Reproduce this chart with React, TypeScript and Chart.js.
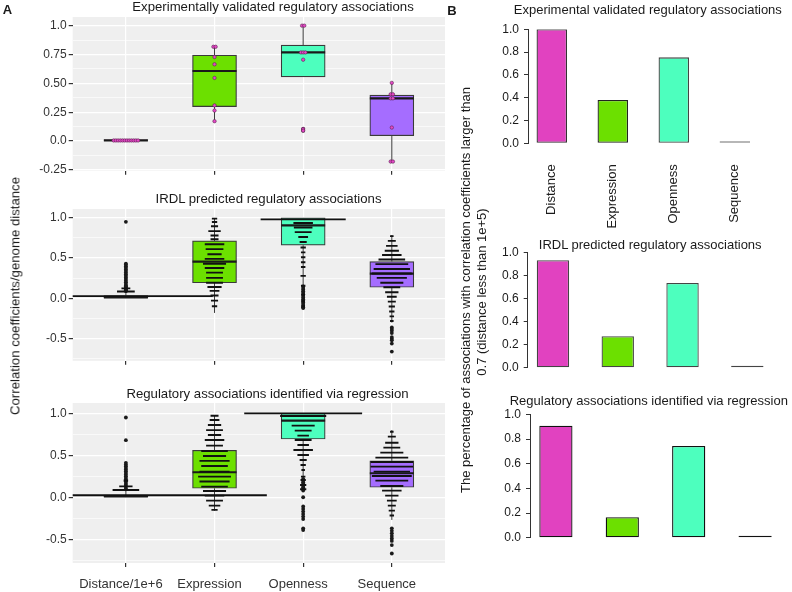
import React, { useEffect, useRef } from "react";
import { Chart, registerables } from "chart.js";

Chart.register(...registerables);

const FONT = "'Liberation Sans', Arial, Helvetica, sans-serif";
Chart.defaults.font.family = FONT;

// ---------------- Panel A (box + dot plots) ----------------
const categoriesA = ["Distance/1e+6", "Expression", "Openness", "Sequence"];
const fillColors = ["#E142C0", "#6CE000", "#4DFFBE", "#A56DFF"];

// Experimentally validated regulatory associations
const expLow = [0.0, 0.172, 0.556, -0.178];
const expQ1 = [0.0, 0.298, 0.556, 0.046];
const expMedian = [0.005, 0.607, 0.768, 0.37];
const expQ3 = [0.01, 0.745, 0.831, 0.398];
const expHigh = [0.01, 0.817, 1.0, 0.504];
const expOutliers: number[][] = [[], [], [0.105, 0.09], []];
// dot-plot observations per category: [value, count]
const expDots: number[][][] = [
  [[0.005, 12]],
  [[0.817, 2], [0.728, 1], [0.665, 1], [0.547, 1], [0.309, 1], [0.264, 1], [0.172, 1]],
  [[1.0, 2], [0.768, 3], [0.705, 1], [0.105, 1], [0.09, 1]],
  [[0.504, 1], [0.405, 2], [0.37, 2], [0.117, 1], [-0.178, 2]],
];

// IRDL predicted regulatory associations
const irdlLow = [0.0, -0.18, 0.16, -0.3];
const irdlQ1 = [0.0, 0.194, 0.66, 0.138];
const irdlMedian = [0.012, 0.457, 0.907, 0.308];
const irdlQ3 = [0.035, 0.713, 1.0, 0.457];
const irdlHigh = [0.085, 0.99, 1.0, 0.785];
const irdlOutliers: number[][] = [
  [0.09, 0.1, 0.11, 0.12, 0.13, 0.14, 0.15, 0.16, 0.18, 0.2, 0.22, 0.24, 0.26, 0.28, 0.3, 0.32, 0.34, 0.36, 0.38, 0.4, 0.42, 0.43, 0.95],
  [],
  [0.15, 0.13, 0.11, 0.09, 0.07, 0.05, 0.03, 0.01, -0.01, -0.03, -0.05, -0.07, -0.09, -0.11, -0.12],
  [-0.36, -0.38, -0.4, -0.43, -0.48, -0.5, -0.52, -0.56, -0.66],
];
// dot-plot stacks per category: [value, count]
const irdlStacks: number[][][] = [
  [[0.028, 196], [0.085, 20], [0.125, 10]],
  [[0.99, 6], [0.947, 6], [0.895, 8], [0.835, 14], [0.781, 9], [0.733, 9], [0.672, 22], [0.611, 20], [0.547, 16], [0.49, 22], [0.43, 26], [0.377, 22], [0.32, 19], [0.255, 19], [0.194, 19], [0.142, 16], [0.093, 11], [0.036, 9], [-0.028, 8], [-0.097, 6]],
  [[0.98, 96], [0.935, 22], [0.879, 21], [0.822, 19], [0.761, 11], [0.7, 8], [0.632, 6], [0.571, 5], [0.51, 5], [0.449, 5], [0.389, 5], [0.28, 6], [0.158, 5], [0.045, 4], [-0.036, 4], [-0.097, 4]],
  [[0.773, 4], [0.713, 9], [0.652, 13], [0.591, 16], [0.538, 22], [0.482, 30], [0.425, 37], [0.364, 41], [0.308, 45], [0.255, 34], [0.194, 26], [0.138, 19], [0.077, 15], [0.02, 11], [-0.04, 9], [-0.101, 7], [-0.162, 6], [-0.223, 5], [-0.28, 4]],
];

// Regulatory associations identified via regression
const regLow = [0.0, -0.16, 0.24, -0.27];
const regQ1 = [0.0, 0.107, 0.694, 0.119];
const regMedian = [0.01, 0.298, 0.913, 0.286];
const regQ3 = [0.025, 0.56, 1.0, 0.433];
const regHigh = [0.087, 0.97, 1.0, 0.8];
const regOutliers: number[][] = [
  [0.095, 0.11, 0.13, 0.15, 0.17, 0.19, 0.21, 0.23, 0.25, 0.27, 0.29, 0.31, 0.33, 0.35, 0.37, 0.39, 0.41, 0.68, 0.95],
  [],
  [0.22, 0.2, 0.18, 0.16, 0.14, 0.12, 0.1, 0.08, 0.0, -0.11, -0.14, -0.17, -0.2, -0.23, -0.26, -0.37, -0.39],
  [-0.37, -0.4, -0.43, -0.46, -0.49, -0.52, -0.57, -0.67],
];
const regStacks: number[][][] = [
  [[0.024, 318], [0.087, 30], [0.13, 15], [0.2, 5]],
  [[0.972, 9], [0.92, 11], [0.861, 15], [0.8, 19], [0.742, 15], [0.683, 22], [0.615, 19], [0.552, 30], [0.492, 26], [0.433, 34], [0.373, 30], [0.306, 34], [0.246, 37], [0.187, 34], [0.127, 30], [0.075, 26], [0.02, 22], [-0.04, 19], [-0.1, 13], [-0.15, 7]],
  [[1.0, 133], [0.968, 52], [0.853, 26], [0.794, 19], [0.734, 13], [0.683, 19], [0.623, 13], [0.563, 22], [0.504, 13], [0.444, 8], [0.385, 6], [0.325, 4], [0.246, 5], [0.206, 6], [0.147, 7], [0.095, 7]],
  [[0.78, 4], [0.722, 9], [0.65, 15], [0.591, 19], [0.532, 26], [0.472, 37], [0.42, 48], [0.365, 48], [0.306, 41], [0.254, 45], [0.198, 37], [0.135, 26], [0.079, 22], [0.02, 15], [-0.04, 11], [-0.1, 9], [-0.159, 7], [-0.218, 5]],
];

const ticksA1Major = [-0.25, 0, 0.25, 0.5, 0.75, 1.0];
const ticksA1Labels = ["-0.25", "0.0", "0.25", "0.50", "0.75", "1.0"];
const ticksA1Minor = [-0.125, 0.125, 0.375, 0.625, 0.875];
const ticksA23Major = [-0.5, 0, 0.5, 1.0];
const ticksA23Labels = ["-0.5", "0.0", "0.5", "1.0"];
const ticksA23Minor = [-0.75, -0.25, 0.25, 0.75];

// ---------------- Panel B (bar charts) ----------------
const categoriesB = ["Distance", "Expression", "Openness", "Sequence"];
const expPct = [1.0, 0.38, 0.754, 0.0];
const irdlPct = [0.93, 0.273, 0.733, 0.012];
const regPct = [0.907, 0.166, 0.744, 0.004];
const ticksB = [0, 0.2, 0.4, 0.6, 0.8, 1.0];

const STACK_UNIT = 0.01; // x-units per stacked observation
const DOT_STEP = 0.025; // x-units between stacked dots

const bgPlugin = {
  id: "panelBg",
  beforeDraw(chart: any) {
    const a = chart.chartArea;
    const c = chart.ctx;
    c.save();
    c.fillStyle = "#EFEFEF";
    c.fillRect(a.left, a.top, a.right - a.left, a.bottom - a.top);
    c.restore();
  },
};

type BoxSpec = {
  low: number[]; q1: number[]; median: number[]; q3: number[]; high: number[];
  outliers: number[][]; stacks?: number[][][]; dots?: number[][][];
  yMin: number; yMax: number; majors: number[]; labels: string[]; minors: number[];
  showX: boolean; padTop: number; xHeight: number;
};

function boxConfig(p: BoxSpec): any {
  const whiskers: any[] = [];
  p.low.forEach((lo, i) => {
    const x = i + 1;
    whiskers.push({ x, y: p.q3[i] }, { x, y: p.high[i] }, { x, y: null }, { x, y: lo }, { x, y: p.q1[i] }, { x, y: null });
  });
  const outliers: any[] = [];
  p.outliers.forEach((list, i) => list.forEach((y) => outliers.push({ x: i + 1, y })));
  const stacks: any[] = [];
  (p.stacks || []).forEach((list, i) => list.forEach(([y, n]) => stacks.push({ x: i + 1, y, n })));
  const dots: any[] = [];
  (p.dots || []).forEach((list, i) =>
    list.forEach(([y, n]) => {
      for (let k = 0; k < n; k++) dots.push({ x: i + 1 + (k - (n - 1) / 2) * DOT_STEP, y });
    })
  );
  const stackRadius = (ctx: any) => {
    const r = ctx.raw;
    if (!r || r.n === undefined) return 0;
    const xs = ctx.chart.scales.x;
    return Math.abs(xs.getPixelForValue(r.x + (r.n * STACK_UNIT) / 2) - xs.getPixelForValue(r.x));
  };
  const yTicks = [
    ...p.majors.map((v) => ({ value: v, isMinor: false })),
    ...p.minors.map((v) => ({ value: v, isMinor: true })),
  ].sort((a, b) => a.value - b.value);

  return {
    type: "bar",
    data: {
      datasets: [
        { type: "line", data: whiskers, borderColor: "#3a3a3a", borderWidth: 1, pointRadius: 0, spanGaps: false, order: 6 },
        {
          type: "bar",
          data: p.q1.map((q, i) => ({ x: i + 1, y: [q, p.q3[i]] })),
          backgroundColor: fillColors,
          borderColor: "#3a3a3a",
          borderWidth: 1.2,
          borderSkipped: false,
          barThickness: 44,
          order: 5,
        },
        {
          type: "scatter",
          data: p.median.map((m, i) => ({ x: i + 1, y: m })),
          pointStyle: "line",
          pointRadius: 22,
          pointBorderWidth: 2.2,
          pointBorderColor: "#1a1a1a",
          order: 4,
        },
        {
          type: "scatter",
          data: outliers,
          pointStyle: "circle",
          pointRadius: 1.9,
          pointBackgroundColor: "#1a1a1a",
          pointBorderColor: "#1a1a1a",
          pointBorderWidth: 0,
          order: 3,
        },
        {
          type: "scatter",
          data: stacks,
          pointStyle: "line",
          pointRadius: stackRadius,
          pointBorderWidth: 1.9,
          pointBorderColor: "#111111",
          clip: 0,
          order: 2,
        },
        {
          type: "scatter",
          data: dots,
          pointStyle: "circle",
          pointRadius: 1.7,
          pointBackgroundColor: "#E548C6",
          pointBorderColor: "#5b2350",
          pointBorderWidth: 0.6,
          order: 1,
        },
      ],
    },
    options: {
      animation: false,
      responsive: false,
      devicePixelRatio: 1,
      events: [],
      layout: { padding: { top: p.padTop, right: 1, bottom: 0, left: 0 }, autoPadding: false },
      plugins: { legend: { display: false }, tooltip: { enabled: false } },
      scales: {
        x: {
          type: "linear",
          min: 0.4,
          max: 4.6,
          offset: false,
          afterBuildTicks: (s: any) => {
            s.ticks = categoriesA.map((_, i) => ({ value: i + 1 }));
          },
          afterFit: (s: any) => {
            s.height = p.xHeight;
          },
          ticks: {
            callback: (v: number) => (p.showX ? categoriesA[Math.round(v) - 1] : ""),
            font: { size: 13 },
            color: "#333333",
            padding: 10,
            labelOffset: -5,
            maxRotation: 0,
            minRotation: 0,
            autoSkip: false,
          },
          grid: { color: "#ffffff", lineWidth: 1.2, offset: false, tickColor: "#333333", tickLength: 4 },
          border: { display: false },
        },
        y: {
          type: "linear",
          min: p.yMin,
          max: p.yMax,
          afterBuildTicks: (s: any) => {
            s.ticks = yTicks.map((t) => ({ ...t }));
          },
          afterFit: (s: any) => {
            s.width = 72.7;
          },
          ticks: {
            callback: (v: number, i: number, ticks: any[]) => {
              const t = ticks[i];
              if (t && t.isMinor) return "";
              const k = p.majors.indexOf(v);
              return k >= 0 ? p.labels[k] : "";
            },
            font: { size: 12 },
            color: "#333333",
            padding: 2,
            autoSkip: false,
          },
          grid: {
            color: "#ffffff",
            lineWidth: (ctx: any) => (ctx.tick && ctx.tick.isMinor ? 0.6 : 1.2),
            tickColor: (ctx: any) => (ctx.tick && ctx.tick.isMinor ? "rgba(0,0,0,0)" : "#333333"),
            tickLength: 4,
          },
          border: { display: false },
        },
      },
    },
    plugins: [bgPlugin],
  };
}

type BarSpec = {
  values: number[]; borders: string[]; showX: boolean; yWidth: number;
  padTop: number; padRight: number; padBottom: number; xHeight: number;
};

function barConfig(p: BarSpec): any {
  return {
    type: "bar",
    data: {
      datasets: [
        {
          data: p.values.map((v, i) => ({ x: 2 * i + 1.5, y: v })),
          backgroundColor: fillColors,
          borderColor: p.borders,
          borderWidth: 1.3,
          borderSkipped: false,
          categoryPercentage: 1,
          barPercentage: 0.5,
          minBarLength: 2,
        },
      ],
    },
    options: {
      animation: false,
      responsive: false,
      devicePixelRatio: 1,
      events: [],
      layout: { padding: { top: p.padTop, right: p.padRight, bottom: p.padBottom, left: 0 }, autoPadding: false },
      plugins: { legend: { display: false }, tooltip: { enabled: false } },
      scales: {
        x: {
          type: "linear",
          min: 0.72,
          max: 8.28,
          offset: false,
          display: p.showX,
          afterBuildTicks: (s: any) => {
            s.ticks = p.values.map((_, i) => ({ value: 2 * i + 1.5 }));
          },
          afterFit: (s: any) => {
            s.height = p.xHeight;
          },
          ticks: {
            callback: (_v: number, i: number) => categoriesB[i],
            minRotation: 90,
            maxRotation: 90,
            autoSkip: false,
            padding: 21,
            font: { size: 13 },
            color: "#1a1a1a",
          },
          grid: { display: false, drawTicks: false, offset: false },
          border: { display: false },
        },
        y: {
          type: "linear",
          min: 0,
          max: 1,
          afterBuildTicks: (s: any) => {
            s.ticks = ticksB.map((v) => ({ value: v }));
          },
          afterFit: (s: any) => {
            s.width = p.yWidth;
          },
          ticks: {
            callback: (v: number) => v.toFixed(1),
            font: { size: 12 },
            color: "#1a1a1a",
            padding: 5,
            autoSkip: false,
          },
          grid: { drawOnChartArea: false, drawTicks: true, tickLength: 4, tickColor: "#333333", lineWidth: 1 },
          border: { display: true, color: "#333333", width: 1 },
        },
      },
    },
  };
}

function ChartCanvas({ left, top, width, height, config }: { left: number; top: number; width: number; height: number; config: () => any }) {
  const ref = useRef<HTMLCanvasElement | null>(null);
  useEffect(() => {
    if (!ref.current) return;
    const chart = new Chart(ref.current, config());
    return () => chart.destroy();
  }, []);
  return (
    <canvas
      ref={ref}
      width={width}
      height={height}
      style={{ position: "absolute", left, top, width, height, display: "block" }}
    />
  );
}

function Label({ x, y, text, size = 13, rotate = false, bold = false }: { x: number; y: number; text: string; size?: number; rotate?: boolean; bold?: boolean }) {
  return (
    <div
      style={{
        position: "absolute",
        left: x,
        top: y,
        transform: `translate(-50%, -50%)${rotate ? " rotate(-90deg)" : ""}`,
        fontSize: size,
        fontWeight: bold ? "bold" : "normal",
        lineHeight: 1,
        whiteSpace: "nowrap",
        color: "#1a1a1a",
      }}
    >
      {text}
    </div>
  );
}

export default function App() {
  return (
    <div
      style={{
        position: "fixed",
        left: 0,
        top: 0,
        width: 792,
        height: 592,
        background: "#ffffff",
        overflow: "hidden",
        fontFamily: FONT,
      }}
    >
      <ChartCanvas
        left={0}
        top={0}
        width={446}
        height={180}
        config={() =>
          boxConfig({
            low: expLow, q1: expQ1, median: expMedian, q3: expQ3, high: expHigh,
            outliers: expOutliers, dots: expDots,
            yMin: -0.258, yMax: 1.075, majors: ticksA1Major, labels: ticksA1Labels, minors: ticksA1Minor,
            showX: false, padTop: 17, xHeight: 8,
          })
        }
      />
      <ChartCanvas
        left={0}
        top={190}
        width={446}
        height={180}
        config={() =>
          boxConfig({
            low: irdlLow, q1: irdlQ1, median: irdlMedian, q3: irdlQ3, high: irdlHigh,
            outliers: irdlOutliers, stacks: irdlStacks,
            yMin: -0.774, yMax: 1.109, majors: ticksA23Major, labels: ticksA23Labels, minors: ticksA23Minor,
            showX: false, padTop: 19, xHeight: 6,
          })
        }
      />
      <ChartCanvas
        left={0}
        top={380}
        width={446}
        height={212}
        config={() =>
          boxConfig({
            low: regLow, q1: regQ1, median: regMedian, q3: regQ3, high: regHigh,
            outliers: regOutliers, stacks: regStacks,
            yMin: -0.783, yMax: 1.123, majors: ticksA23Major, labels: ticksA23Labels, minors: ticksA23Minor,
            showX: true, padTop: 23, xHeight: 29,
          })
        }
      />
      <ChartCanvas
        left={446}
        top={0}
        width={346}
        height={230}
        config={() =>
          barConfig({
            values: expPct, borders: ["#333333", "#222222", "#444444", "#808080"], showX: true,
            yWidth: 82, padTop: 29.3, padRight: 33.4, padBottom: 0, xHeight: 86.7,
          })
        }
      />
      <ChartCanvas
        left={446}
        top={240}
        width={346}
        height={140}
        config={() =>
          barConfig({
            values: irdlPct, borders: ["#444444", "#444444", "#444444", "#444444"], showX: false,
            yWidth: 81.7, padTop: 8.7, padRight: 19.4, padBottom: 11.7, xHeight: 0,
          })
        }
      />
      <ChartCanvas
        left={446}
        top={400}
        width={346}
        height={150}
        config={() =>
          barConfig({
            values: regPct, borders: ["#111111", "#111111", "#111111", "#111111"], showX: false,
            yWidth: 84, padTop: 14.3, padRight: 11, padBottom: 7, xHeight: 0,
          })
        }
      />

      <Label x={7.5} y={8.5} text="A" bold size={13} />
      <Label x={452} y={9.5} text="B" bold size={13} />
      <Label x={273} y={7} text="Experimentally validated regulatory associations" size={13.2} />
      <Label x={268.5} y={198.7} text="IRDL predicted regulatory associations" size={13.2} />
      <Label x={267.5} y={393.8} text="Regulatory associations identified via regression" size={13.2} />
      <Label x={15} y={295.5} text="Correlation coefficients/genome distance" size={13.2} rotate />
      <Label x={647.8} y={9.2} text="Experimental validated regulatory associations" size={13} />
      <Label x={650.2} y={244.3} text="IRDL predicted regulatory associations" size={13} />
      <Label x={648.8} y={399.7} text="Regulatory associations identified via regression" size={13} />
      <Label x={465} y={290} text="The percentage of associations with correlation coefficients larger than" size={13} rotate />
      <Label x={481} y={291.5} text="0.7 (distance less than 1e+5)" size={13} rotate />
    </div>
  );
}
